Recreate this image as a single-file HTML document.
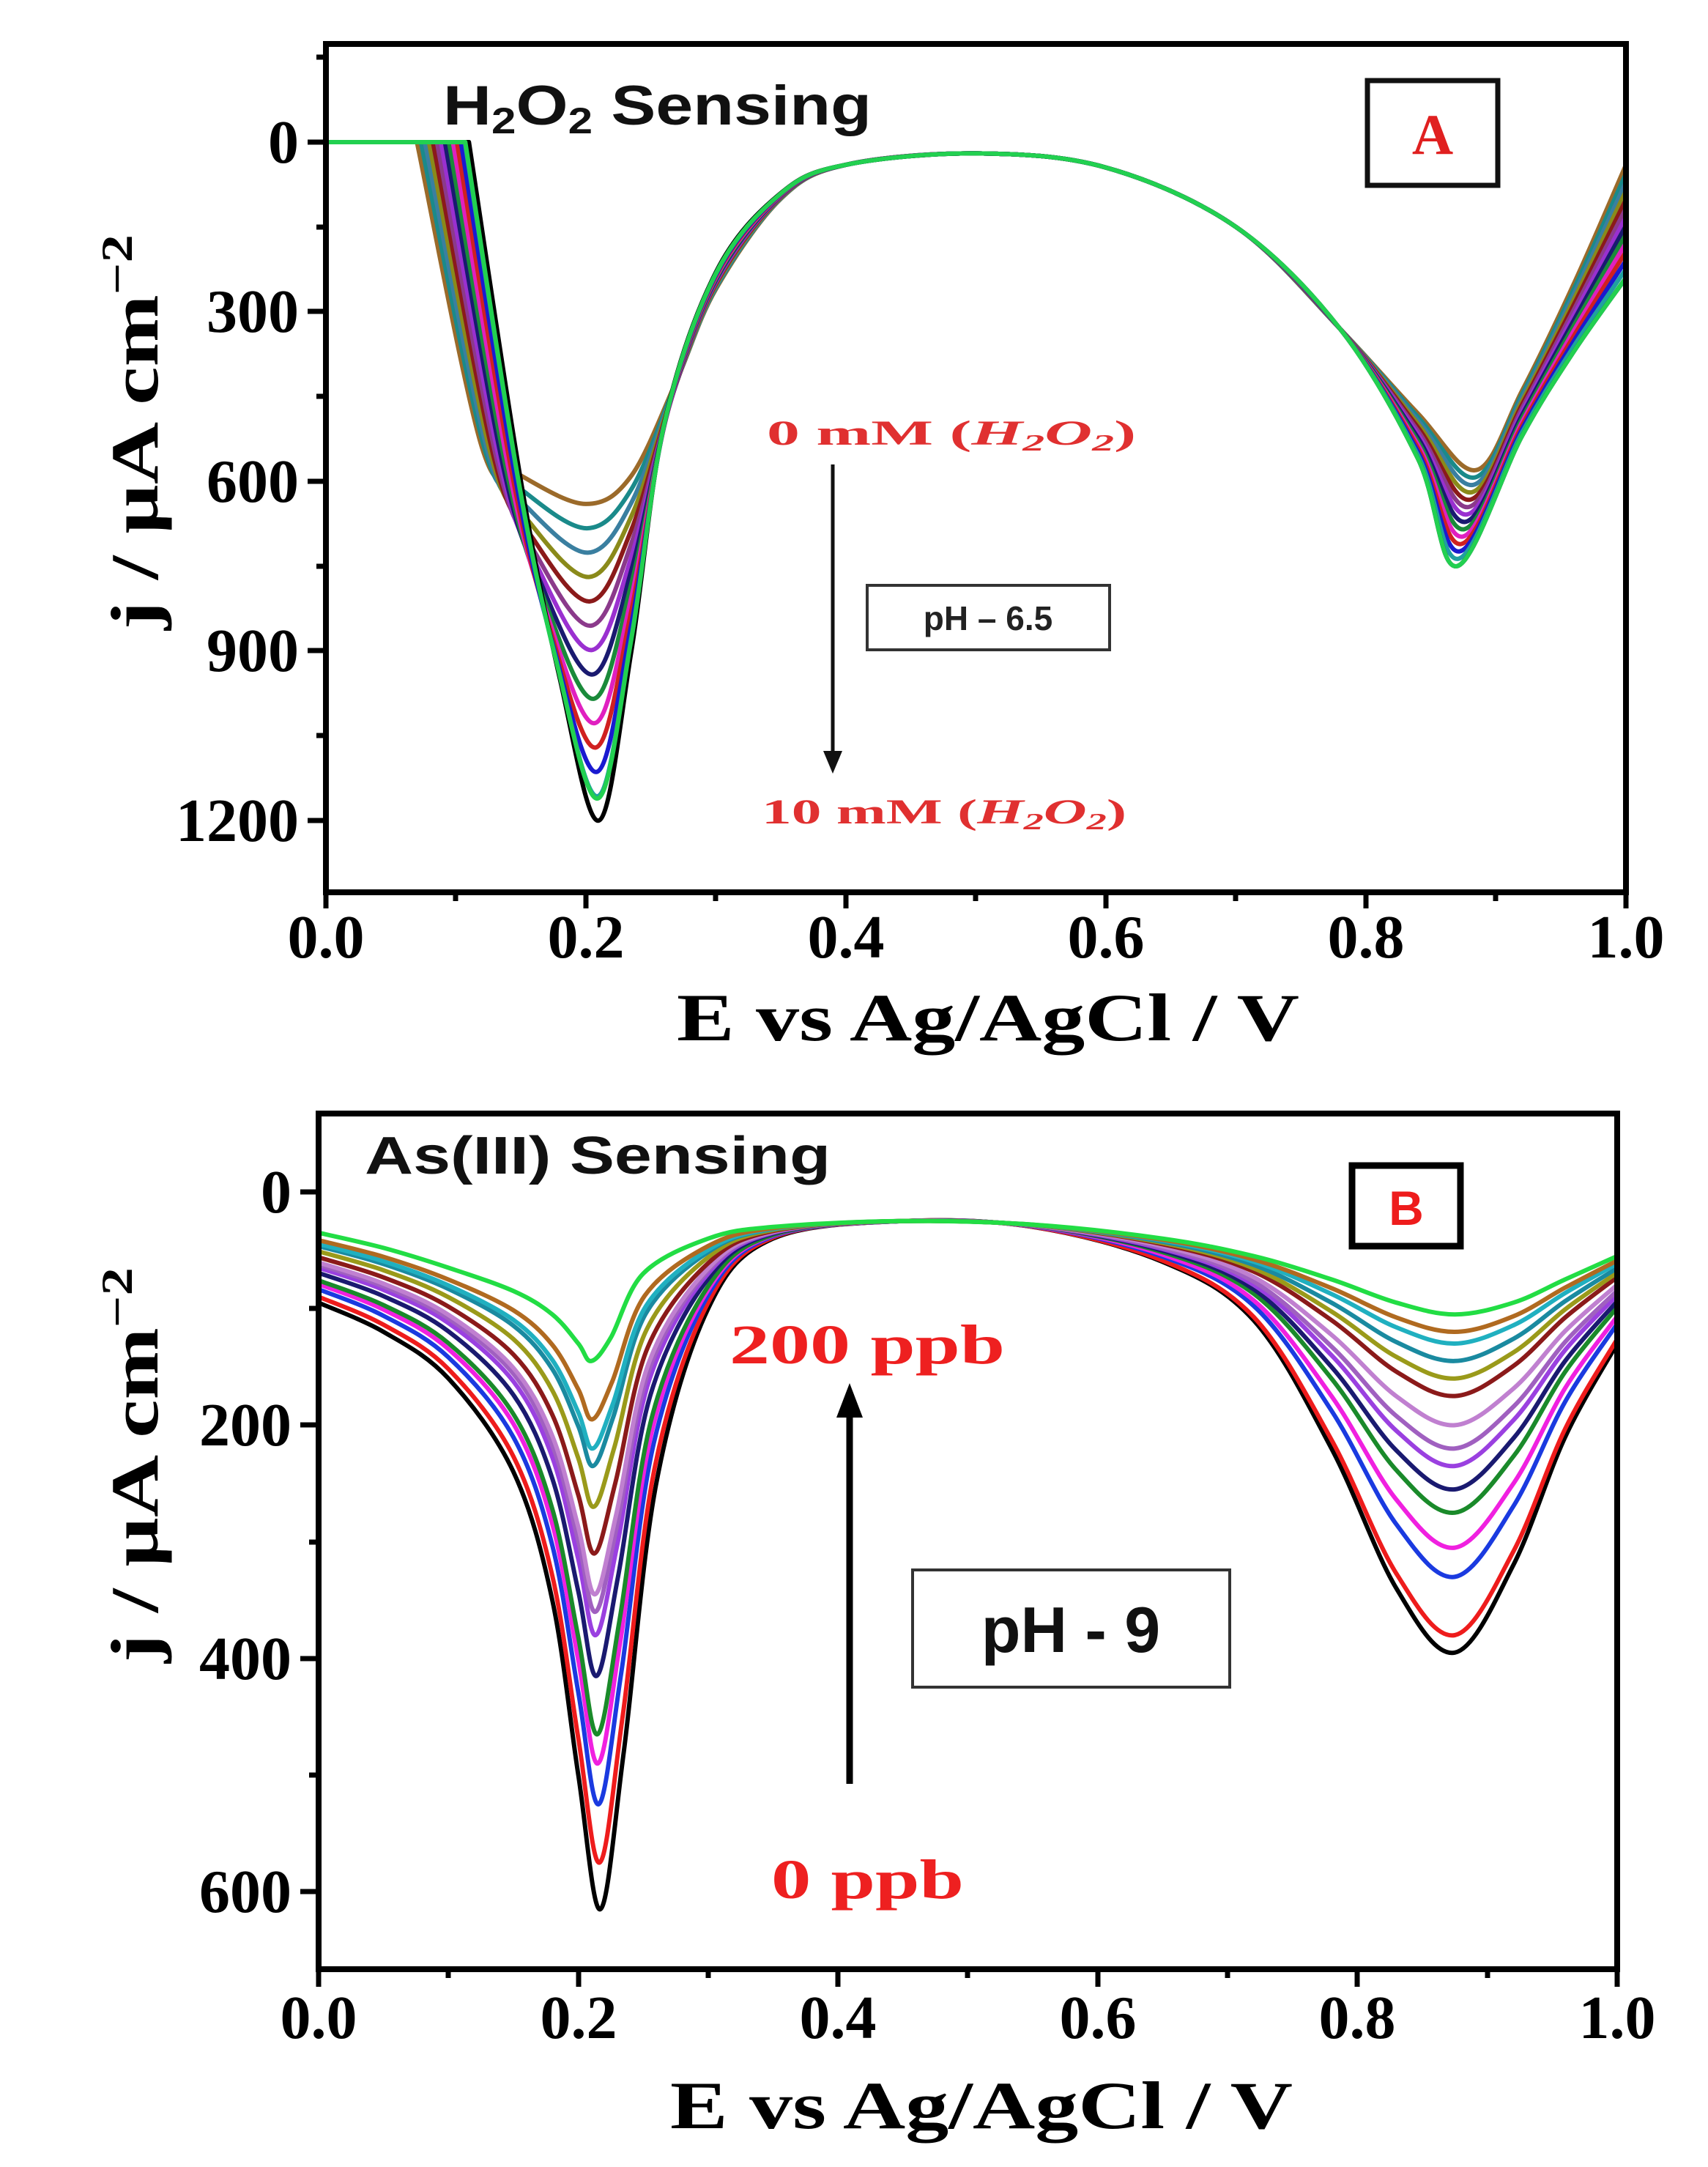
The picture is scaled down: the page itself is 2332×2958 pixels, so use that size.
<!DOCTYPE html>
<html><head><meta charset="utf-8"><style>
html,body{margin:0;padding:0;background:#fff;}
svg{display:block;}
.tk{font-family:"Liberation Serif",serif;font-weight:bold;font-size:84px;fill:#000;}
.ti{font-family:"Liberation Serif",serif;font-weight:bold;font-size:92px;fill:#000;}
.sans{font-family:"Liberation Sans",sans-serif;}
</style></head><body>
<svg id="s" width="2332" height="2958" viewBox="0 0 2332 2958" xmlns="http://www.w3.org/2000/svg">
<rect width="2332" height="2958" fill="#fff"/>
<g id="curvesA"></g>
<g id="curvesB"></g>
<!-- Panel A axes -->
<rect x="445" y="60" width="1775" height="1158" fill="none" stroke="#000" stroke-width="8"/>
<g stroke="#000" stroke-width="7">
<line x1="445" y1="1218" x2="445" y2="1240"/><line x1="800" y1="1218" x2="800" y2="1240"/><line x1="1155" y1="1218" x2="1155" y2="1240"/><line x1="1510" y1="1218" x2="1510" y2="1240"/><line x1="1865" y1="1218" x2="1865" y2="1240"/><line x1="2220" y1="1218" x2="2220" y2="1240"/>
<line x1="622" y1="1218" x2="622" y2="1230"/><line x1="977" y1="1218" x2="977" y2="1230"/><line x1="1332" y1="1218" x2="1332" y2="1230"/><line x1="1687" y1="1218" x2="1687" y2="1230"/><line x1="2042" y1="1218" x2="2042" y2="1230"/>
<line x1="420" y1="194" x2="445" y2="194"/><line x1="420" y1="425" x2="445" y2="425"/><line x1="420" y1="657" x2="445" y2="657"/><line x1="420" y1="888" x2="445" y2="888"/><line x1="420" y1="1120" x2="445" y2="1120"/>
<line x1="432" y1="78" x2="445" y2="78"/><line x1="432" y1="310" x2="445" y2="310"/><line x1="432" y1="541" x2="445" y2="541"/><line x1="432" y1="773" x2="445" y2="773"/><line x1="432" y1="1004" x2="445" y2="1004"/>
</g>
<g class="tk" text-anchor="end">
<text x="408" y="222">0</text><text x="408" y="453">300</text><text x="408" y="685">600</text><text x="408" y="916">900</text><text x="408" y="1148">1200</text>
</g>
<g class="tk" text-anchor="middle">
<text x="445" y="1307">0.0</text><text x="800" y="1307">0.2</text><text x="1155" y="1307">0.4</text><text x="1510" y="1307">0.6</text><text x="1865" y="1307">0.8</text><text x="2220" y="1307">1.0</text>
</g>
<text class="ti" x="1349" y="1420" text-anchor="middle" textLength="850" lengthAdjust="spacingAndGlyphs">E vs Ag/AgCl / V</text>
<text class="ti" transform="translate(215,590) rotate(-90)" text-anchor="middle" textLength="540" lengthAdjust="spacingAndGlyphs">j / µA cm<tspan dy="-35" font-size="60">−2</tspan></text>
<text class="sans" x="605" y="170" font-size="76" font-weight="bold" fill="#111" textLength="585" lengthAdjust="spacingAndGlyphs">H<tspan font-size="50" dy="12">2</tspan><tspan dy="-12">O</tspan><tspan font-size="50" dy="12">2</tspan><tspan dy="-12"> Sensing</tspan></text>
<rect x="1867" y="110" width="178" height="143" fill="#fff" stroke="#111" stroke-width="7"/>
<text x="1956" y="210" text-anchor="middle" font-family="Liberation Serif,serif" font-weight="bold" font-size="78" fill="#e02020">A</text>
<text x="1047" y="607" font-family="Liberation Serif,serif" font-weight="bold" font-size="48" fill="#e03030" textLength="504" lengthAdjust="spacingAndGlyphs">0 mM (<tspan font-style="italic">H</tspan><tspan font-size="32" dy="8" font-style="italic">2</tspan><tspan dy="-8" font-style="italic">O</tspan><tspan font-size="32" dy="8" font-style="italic">2</tspan><tspan dy="-8">)</tspan></text>
<text x="1040" y="1124" font-family="Liberation Serif,serif" font-weight="bold" font-size="48" fill="#e03030" textLength="498" lengthAdjust="spacingAndGlyphs">10 mM (<tspan font-style="italic">H</tspan><tspan font-size="32" dy="8" font-style="italic">2</tspan><tspan dy="-8" font-style="italic">O</tspan><tspan font-size="32" dy="8" font-style="italic">2</tspan><tspan dy="-8">)</tspan></text>
<line x1="1137" y1="634" x2="1137" y2="1030" stroke="#111" stroke-width="5"/>
<polygon points="1124,1025 1150,1025 1137,1056" fill="#111"/>
<rect x="1184" y="799" width="331" height="88" fill="#fff" stroke="#333" stroke-width="4"/>
<text class="sans" x="1349" y="860" text-anchor="middle" font-size="46" font-weight="bold" fill="#222">pH – 6.5</text>

<!-- Panel B axes -->
<rect x="435" y="1520" width="1773" height="1168" fill="none" stroke="#000" stroke-width="8"/>
<g stroke="#000" stroke-width="7">
<line x1="435" y1="2688" x2="435" y2="2712"/><line x1="790" y1="2688" x2="790" y2="2712"/><line x1="1144" y1="2688" x2="1144" y2="2712"/><line x1="1499" y1="2688" x2="1499" y2="2712"/><line x1="1853" y1="2688" x2="1853" y2="2712"/><line x1="2208" y1="2688" x2="2208" y2="2712"/>
<line x1="612" y1="2688" x2="612" y2="2700"/><line x1="967" y1="2688" x2="967" y2="2700"/><line x1="1321" y1="2688" x2="1321" y2="2700"/><line x1="1676" y1="2688" x2="1676" y2="2700"/><line x1="2031" y1="2688" x2="2031" y2="2700"/>
<line x1="410" y1="1627" x2="435" y2="1627"/><line x1="410" y1="1945" x2="435" y2="1945"/><line x1="410" y1="2264" x2="435" y2="2264"/><line x1="410" y1="2582" x2="435" y2="2582"/>
<line x1="422" y1="1786" x2="435" y2="1786"/><line x1="422" y1="2105" x2="435" y2="2105"/><line x1="422" y1="2423" x2="435" y2="2423"/>
</g>
<g class="tk" text-anchor="end">
<text x="398" y="1655">0</text><text x="398" y="1973">200</text><text x="398" y="2292">400</text><text x="398" y="2610">600</text>
</g>
<g class="tk" text-anchor="middle">
<text x="435" y="2782">0.0</text><text x="790" y="2782">0.2</text><text x="1144" y="2782">0.4</text><text x="1499" y="2782">0.6</text><text x="1853" y="2782">0.8</text><text x="2208" y="2782">1.0</text>
</g>
<text class="ti" x="1340" y="2905" text-anchor="middle" textLength="850" lengthAdjust="spacingAndGlyphs">E vs Ag/AgCl / V</text>
<text class="ti" transform="translate(215,2000) rotate(-90)" text-anchor="middle" textLength="540" lengthAdjust="spacingAndGlyphs">j / µA cm<tspan dy="-35" font-size="60">−2</tspan></text>
<text class="sans" x="498" y="1602" font-size="72" font-weight="bold" fill="#111" textLength="636" lengthAdjust="spacingAndGlyphs">As(III) Sensing</text>
<rect x="1846" y="1591" width="148" height="110" fill="#fff" stroke="#000" stroke-width="9"/>
<text class="sans" x="1920" y="1672" text-anchor="middle" font-size="66" font-weight="bold" fill="#ee1c1c">B</text>
<text x="996" y="1861" font-family="Liberation Serif,serif" font-weight="bold" font-size="76" fill="#ee2020" textLength="376" lengthAdjust="spacingAndGlyphs">200 ppb</text>
<text x="1053" y="2591" font-family="Liberation Serif,serif" font-weight="bold" font-size="76" fill="#ee2020" textLength="263" lengthAdjust="spacingAndGlyphs">0 ppb</text>
<line x1="1160" y1="2435" x2="1160" y2="1930" stroke="#000" stroke-width="9"/>
<polygon points="1142,1935 1178,1935 1160,1888" fill="#000"/>
<rect x="1246" y="2143" width="433" height="160" fill="#fff" stroke="#333" stroke-width="4"/>
<text class="sans" x="1462" y="2255" text-anchor="middle" font-size="88" font-weight="bold" fill="#111">pH - 9</text>
</svg>
<script>
function cr(pts){var d="M"+pts[0][0].toFixed(1)+","+pts[0][1].toFixed(1);
for(var i=0;i<pts.length-1;i++){var p0=pts[Math.max(0,i-1)],p1=pts[i],p2=pts[i+1],p3=pts[Math.min(pts.length-1,i+2)];
var c1x=p1[0]+(p2[0]-p0[0])/6,c1y=p1[1]+(p2[1]-p0[1])/6,c2x=p2[0]-(p3[0]-p1[0])/6,c2y=p2[1]-(p3[1]-p1[1])/6;
d+="C"+c1x.toFixed(1)+","+c1y.toFixed(1)+" "+c2x.toFixed(1)+","+c2y.toFixed(1)+" "+p2[0].toFixed(1)+","+p2[1].toFixed(1);}return d;}
var NS="http://www.w3.org/2000/svg";
function add(g,d,c){var p=document.createElementNS(NS,"path");p.setAttribute("d",d);p.setAttribute("fill","none");p.setAttribute("stroke",c);p.setAttribute("stroke-width","6");p.setAttribute("stroke-linejoin","round");g.appendChild(p);}
var AX=function(x){return 445+x*1775},AY=function(j){return 194+j*0.7717};
var Ad=[[0,0],[0.11,0],[0.15,600],[0.18,950],[0.21,1200],[0.235,900],[0.26,500],[0.3,230],[0.35,90],[0.4,40],[0.5,20],[0.6,45],[0.7,150],[0.78,330],[0.84,560],[0.87,750],[0.92,520],[0.96,370],[1.0,240]];
var As=[[0,0],[0.07,0],[0.12,540],[0.15,590],[0.2,640],[0.235,590],[0.27,420],[0.3,260],[0.35,100],[0.4,40],[0.5,20],[0.6,45],[0.7,150],[0.78,330],[0.84,480],[0.885,580],[0.92,440],[0.96,250],[1.0,40]];
var colA=["#9b6a2a","#1a8a8a","#3a7fa0","#8a8a1a","#8b1a1a","#8b3a8b","#9a30d0","#1a1a70","#1a8a3a","#e020c0","#d02020","#1a1ad0","#20a0a0","#000000","#22d050"];
var gA=document.getElementById("curvesA");
for(var k=0;k<15;k++){var t=k<14?k/13:0.93;var t2=k==14?1:t;
var pts=[];for(var i=0;i<Ad.length;i++){var tt=(i>=13)?t2:t;var x=As[i][0]+(Ad[i][0]-As[i][0])*tt,j=As[i][1]+(Ad[i][1]-As[i][1])*tt;pts.push([AX(x),AY(j)]);}
var d="M"+pts[0][0]+","+pts[0][1]+"L"+pts[1][0]+","+pts[1][1]+cr(pts.slice(1)).replace(/^M[^C]*/,"");add(gA,d,colA[k]);}
var BX=function(x){return 435+x*1773},BY=function(j){return 1627+j*1.592};
var Bd=[[0,95],[0.05,120],[0.1,160],[0.15,240],[0.18,350],[0.2,500],[0.217,615],[0.235,480],[0.26,250],[0.3,100],[0.35,40],[0.45,25],[0.55,30],[0.65,60],[0.72,110],[0.78,220],[0.83,340],[0.875,395],[0.92,320],[0.96,210],[1.0,130]];
var Bs=[[0,35],[0.05,48],[0.1,65],[0.15,85],[0.18,105],[0.2,130],[0.21,145],[0.225,125],[0.25,70],[0.3,40],[0.35,30],[0.45,25],[0.55,28],[0.65,40],[0.72,55],[0.78,75],[0.83,95],[0.875,105],[0.92,95],[0.96,75],[1.0,55]];
var d1=[615,575,525,490,465,415,380,360,345,310,270,235,220,195,145];
var d2=[395,380,330,305,275,255,235,220,200,175,160,145,130,120,105];
var colB=["#000000","#ee1c1c","#1a3ae0","#f020e0","#1a8a2a","#1a1a70","#9a40e0","#a060c0","#c080d0","#8b1a1a","#9a9a1a","#1a8aa0","#20b0c0","#b06a20","#22dd44"];
var gB=document.getElementById("curvesB");
for(var k=0;k<15;k++){var t1=(d1[k]-145)/(615-145),t2=(d2[k]-105)/(395-105);var pts=[];
for(var i=0;i<Bd.length;i++){var tt=Bd[i][0]<0.45?t1:t2;var x=Bs[i][0]+(Bd[i][0]-Bs[i][0])*tt,j=Bs[i][1]+(Bd[i][1]-Bs[i][1])*tt;pts.push([BX(x),BY(j)]);}
add(gB,cr(pts),colB[k]);}
</script>
</body></html>
